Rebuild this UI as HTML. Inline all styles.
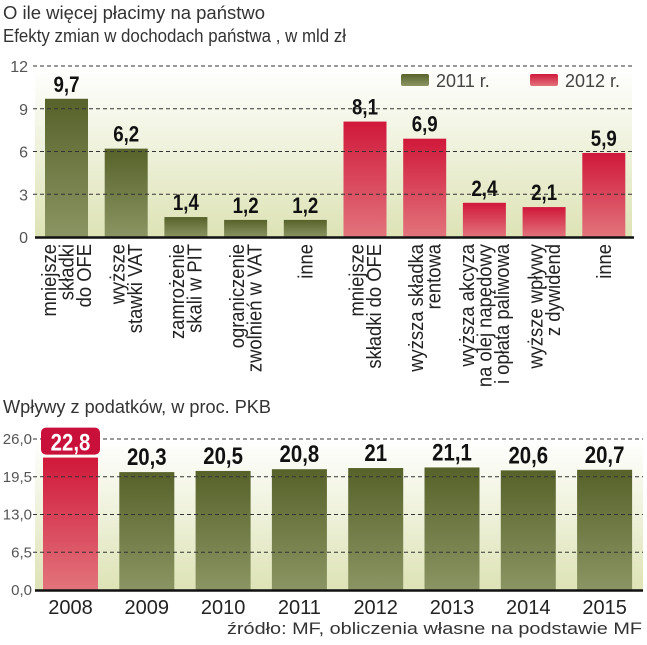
<!DOCTYPE html>
<html><head><meta charset="utf-8"><style>
body{margin:0;background:#fff;width:647px;height:640px;overflow:hidden}
svg text{font-family:"Liberation Sans",sans-serif}
</style></head><body>
<svg width="647" height="640" viewBox="0 0 647 640">
<defs>
<linearGradient id="bg" x1="0" y1="0" x2="0" y2="1"><stop offset="0" stop-color="#ffffff"/><stop offset="1" stop-color="#dde3b5"/></linearGradient>
<linearGradient id="gr" x1="0" y1="0" x2="0" y2="1"><stop offset="0" stop-color="#57622a"/><stop offset="1" stop-color="#8a9563"/></linearGradient>
<linearGradient id="rd" x1="0" y1="0" x2="0" y2="1"><stop offset="0" stop-color="#d0183a"/><stop offset="1" stop-color="#e2747c"/></linearGradient>
</defs>
<text x="3" y="19" font-size="18" fill="#333" textLength="262" lengthAdjust="spacingAndGlyphs">O ile więcej płacimy na państwo</text>
<text x="3" y="42" font-size="18" fill="#333" textLength="343" lengthAdjust="spacingAndGlyphs">Efekty zmian w dochodach państwa , w mld zł</text>
<g id="top"></g>
<text x="3" y="413" font-size="18" fill="#333" textLength="268" lengthAdjust="spacingAndGlyphs">Wpływy z podatków, w proc. PKB</text>
<g id="bot"></g>
<text x="227" y="634" font-size="17" fill="#333" textLength="415" lengthAdjust="spacingAndGlyphs">źródło: MF, obliczenia własne na podstawie MF</text>
</svg>
<script>
const topCats=[["mniejsze","składki","do OFE"],["wyższe","stawki VAT"],["zamrożenie","skali w PIT"],["ograniczenie","zwolnień w VAT"],["inne"],["mniejsze","składki do OFE"],["wyższa składka","rentowa"],["wyższa akcyza","na olej napędowy","i opłata paliwowa"],["wyższe wpływy","z dywidend"],["inne"]];
const topVals=[9.7,6.2,1.4,1.2,1.2,8.1,6.9,2.4,2.1,5.9];
const topSeries=["2011","2011","2011","2011","2011","2012","2012","2012","2012","2012"];
const topTicks=[0,3,6,9,12];
const botCats=["2008","2009","2010","2011","2012","2013","2014","2015"];
const botVals=[22.8,20.3,20.5,20.8,21,21.1,20.6,20.7];
const botTicks=[0,6.5,13,19.5,26];
const NS="http://www.w3.org/2000/svg";
function mk(p,tag,a,txt){const e=document.createElementNS(NS,tag);for(const k in a)e.setAttribute(k,a[k]);if(txt!=null)e.textContent=txt;p.appendChild(e);return e;}
const fmt=v=>String(v).replace('.',',');
const T=document.getElementById('top');
const ty=v=>237-(237-66)*v/12, tx=i=>45+i*59.7, tw=43;
let r=mk(T,'rect',{x:35,y:66,width:597,height:171,fill:'url(#bg)'});


topVals.forEach((v,i)=>{
 let b=mk(T,'rect',{x:tx(i),y:ty(v),width:tw,height:237-ty(v),fill:topSeries[i]=="2011"?'url(#gr)':'url(#rd)'});
 
 
});
topTicks.forEach(t=>{
 if(t>0){let l=mk(T,'line',{x1:33,x2:632,y1:ty(t),y2:ty(t),stroke:'#333','stroke-width':1,'stroke-dasharray':'4,3'});
 
 }
 let tt=mk(T,'text',{x:28,y:ty(t)+6,'font-size':16,fill:'#555','text-anchor':'end'},String(t));
 
 
});
let ax=mk(T,'line',{x1:35,x2:634,y1:237.5,y2:237.5,stroke:'#111','stroke-width':2.5});


topVals.forEach((v,i)=>{
 let t=mk(T,'text',{x:0,y:0,'font-size':22,'font-weight':'bold',fill:'#111','text-anchor':'middle',transform:`translate(${tx(i)+tw/2} ${ty(v)-7}) scale(0.85 1)`},fmt(v));
 
 
 const lines=topCats[i],n=lines.length,cx=tx(i)+tw/2;
 lines.forEach((s,j)=>{
  const x=cx+(j-(n-1)/2)*17.5+7;
  let c=mk(T,'text',{x:0,y:0,'font-size':20,fill:'#222','text-anchor':'end',transform:`translate(${x} 244) rotate(-90) scale(0.92 1)`},s);
  
  
 });
});
[[401,'url(#gr)','2011 r.'],[530,'url(#rd)','2012 r.']].forEach(([x,f,s])=>{
 let sw=mk(T,'rect',{x:x,y:74,width:28,height:12,rx:2,fill:f});
 
 
 let lt=mk(T,'text',{x:x+35,y:87,'font-size':18,fill:'#444'},s);
 
 
});
const B=document.getElementById('bot');
const by=v=>590-(590-439)*v/26, bx=i=>43+i*76.3, bw=55;
let r2=mk(B,'rect',{x:35,y:439,width:608,height:151,fill:'url(#bg)'});


botVals.forEach((v,i)=>{
 let b=mk(B,'rect',{x:bx(i),y:by(v),width:bw,height:590-by(v),fill:i==0?'url(#rd)':'url(#gr)'});
 
 
});
botTicks.forEach(t=>{
 if(t>0){let l=mk(B,'line',{x1:33,x2:643,y1:by(t),y2:by(t),stroke:'#333','stroke-width':1,'stroke-dasharray':'4,3'});
 
 }
 let tt=mk(B,'text',{x:32,y:by(t)+5,'font-size':15,fill:'#555','text-anchor':'end'},t.toFixed(1).replace('.',','));
 
 
});
let ax2=mk(B,'line',{x1:35,x2:643,y1:590.5,y2:590.5,stroke:'#111','stroke-width':2.5});


botVals.forEach((v,i)=>{
 const cx=bx(i)+bw/2;
 if(i==0){
  let bg=mk(B,'rect',{x:bx(i)-2,y:by(v)-30,width:bw+4,height:27,rx:5,fill:'#c8103a'});
  
  
 }
 let t=mk(B,'text',{x:0,y:0,'font-size':24,'font-weight':'bold',fill:i==0?'#fff':'#111','text-anchor':'middle',transform:`translate(${cx} ${by(v)-7}) scale(0.85 1)`},fmt(v));
 
 
 let c=mk(B,'text',{x:cx,y:614,'font-size':20,fill:'#222','text-anchor':'middle'},botCats[i]);
 
 
});
</script>
</body></html>
